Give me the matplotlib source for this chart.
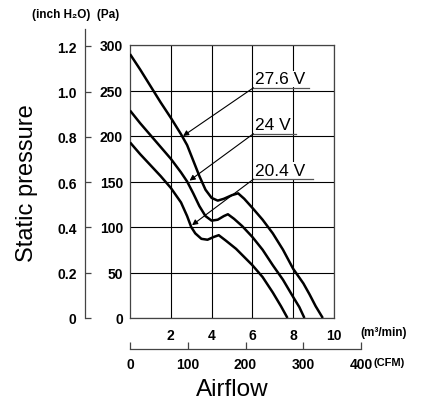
import matplotlib
matplotlib.use("Agg")
import matplotlib.pyplot as plt
import numpy as np

plt.rcParams['font.family'] = ['Liberation Sans', 'DejaVu Sans']

# P-Q curves: airflow (m3/min) vs static pressure (Pa)
flow_276 = [0, 0.5, 1, 1.5, 2, 2.5, 2.8, 3.1, 3.4, 3.7, 4.0, 4.3, 4.6, 5.0, 5.3,
            5.6, 6.0, 6.5, 7.0, 7.5, 8.0, 8.5, 8.8, 9.1, 9.45]
pres_276 = [290, 273, 255, 237, 220, 202, 190, 173, 156, 141, 132, 129, 131, 135, 137,
            131, 121, 108, 93, 75, 54, 38, 26, 13, 0]

flow_24 = [0, 0.5, 1, 1.5, 2, 2.5, 2.8, 3.1, 3.4, 3.7, 4.0, 4.3, 4.6, 4.8, 5.1,
           5.5, 6.0, 6.5, 7.0, 7.5, 8.0, 8.3, 8.55]
pres_24 = [228, 214, 201, 188, 175, 160, 150, 137, 123, 112, 107, 108, 112, 114, 109,
           101, 89, 75, 58, 42, 23, 12, 0]

flow_204 = [0, 0.5, 1, 1.5, 2, 2.5, 2.8, 3.0, 3.2, 3.5, 3.8, 4.1, 4.35, 4.7, 5.2,
            5.6, 6.0, 6.5, 7.0, 7.4, 7.72]
pres_204 = [193, 180, 168, 156, 143, 127, 112, 100, 93, 87, 86, 89, 91, 85, 76,
            67, 58, 45, 28, 13, 0]

labels = ['27.6 V', '24 V', '20.4 V']
pa_ticks = [0, 50, 100, 150, 200, 250, 300]
m3_ticks = [2, 4, 6, 8, 10]
inch_ticks = [0, 0.2, 0.4, 0.6, 0.8, 1.0, 1.2]
cfm_ticks = [0, 100, 200, 300, 400]

PA_PER_INCH = 249.09
M3_TO_CFM = 35.315

W, H = 435, 410
fig = plt.figure(figsize=(W / 100, H / 100), dpi=100)


def px_rect(x0, y_top, x1, y_bot):
    return [x0 / W, 1 - y_bot / H, (x1 - x0) / W, (y_bot - y_top) / H]


tick_font = dict(fontsize=10, fontweight='bold')

# main grid box
ax = fig.add_axes(px_rect(130, 46, 334, 319))
ax.set_xlim(0, 10)
ax.set_ylim(0, 300)
ax.set_xticks(m3_ticks)
ax.set_yticks(pa_ticks)
ax.set_xticklabels([str(t) for t in m3_ticks], **tick_font)
ax.set_yticklabels([str(t) for t in pa_ticks], **tick_font)
ax.tick_params(length=0, pad=5)
ax.tick_params(axis='x', pad=7)
ax.grid(True, color='black', lw=0.8)
for s in ax.spines.values():
    s.set_color('#444444')
    s.set_linewidth(0.9)

for q, p in [(flow_276, pres_276), (flow_24, pres_24), (flow_204, pres_204)]:
    ax.plot(q, p, color='black', lw=1.8, solid_capstyle='butt', zorder=3)

# voltage labels with underline and arrow
ul_y = [253, 202.5, 152.5]
ul_end = [8.77, 8.13, 8.97]
arrow_to = [(2.6, 200), (2.92, 151), (3.04, 102)]
for lab, y, xe, tgt in zip(labels, ul_y, ul_end, arrow_to):
    ax.text(6.12, y + 1.5, lab, fontsize=12.5, va='bottom', ha='left', zorder=4,
            bbox=dict(facecolor='white', edgecolor='none', pad=0.6))
    ax.plot([6.05, xe], [y, y], color='#555555', lw=0.9, zorder=4)
    ax.annotate('', xy=tgt, xytext=(6.05, y), zorder=5,
                arrowprops=dict(arrowstyle='-|>', color='black', lw=0.8,
                                mutation_scale=8, shrinkA=0, shrinkB=0))

# inch H2O scale on the far left
ax_in = fig.add_axes(px_rect(85, 30, 95, 319))
ax_in.set_ylim(0, 318 / PA_PER_INCH)
ax_in.set_xticks([])
ax_in.set_yticks(inch_ticks)
ax_in.set_yticklabels(['0' if t == 0 else f'{t:.1f}' for t in inch_ticks], **tick_font)
ax_in.tick_params(axis='y', direction='in', length=4, width=0.9, color='#444444', pad=6)
for k in ['top', 'right', 'bottom']:
    ax_in.spines[k].set_visible(False)
ax_in.spines['left'].set_color('#444444')
ax_in.spines['left'].set_linewidth(0.9)
ax_in.patch.set_visible(False)

# CFM scale under the chart
ax_cfm = fig.add_axes(px_rect(130, 340, 130 + 400 / M3_TO_CFM * 20.4, 350))
ax_cfm.set_xlim(0, 400)
ax_cfm.set_yticks([])
ax_cfm.set_xticks(cfm_ticks)
ax_cfm.set_xticklabels([str(t) for t in cfm_ticks], **tick_font)
ax_cfm.tick_params(axis='x', direction='in', length=5, width=0.9, color='#444444', pad=6)
for k in ['top', 'right', 'left']:
    ax_cfm.spines[k].set_visible(False)
ax_cfm.spines['bottom'].set_color('#444444')
ax_cfm.spines['bottom'].set_linewidth(0.9)
ax_cfm.patch.set_visible(False)

# unit and axis titles
fig.text(32 / W, 1 - 15 / H, '(inch H\u2082O)  (Pa)', fontsize=8.5, fontweight='bold',
         va='center', ha='left')
fig.text(360 / W, 1 - 333 / H, '(m\u00b3/min)', fontsize=8.5, fontweight='bold',
         va='center', ha='left')
fig.text(374 / W, 1 - 363 / H, '(CFM)', fontsize=8, fontweight='bold',
         va='center', ha='left')
fig.text(27 / W, 1 - 183 / H, 'Static pressure', fontsize=17, rotation=90,
         va='center', ha='center')
fig.text(232 / W, 1 - 390 / H, 'Airflow', fontsize=17.5, va='center', ha='center')

fig.savefig('out.png', dpi=100)
